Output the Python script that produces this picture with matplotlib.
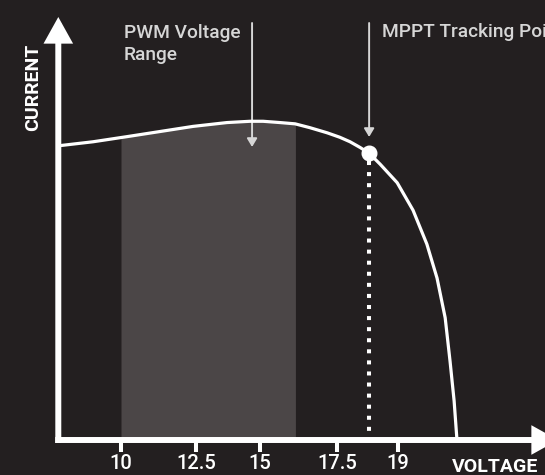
import matplotlib
matplotlib.use("Agg")
import matplotlib.pyplot as plt
import numpy as np

# I-V curve of the panel
voltage = [7.97, 9.07, 10.20, 11.30, 12.40, 13.71, 14.61, 15.10, 15.65, 16.14,
           16.62, 17.18, 17.57, 17.82, 18.07, 18.29, 18.56, 18.98, 19.37, 19.71,
           19.96, 20.16, 20.28, 20.38, 20.45]
current = [4.60, 4.66, 4.74, 4.82, 4.90, 4.96, 4.98, 4.98, 4.96, 4.94,
           4.88, 4.80, 4.73, 4.66, 4.57, 4.48, 4.31, 4.02, 3.59, 3.06,
           2.53, 1.91, 1.23, 0.61, 0.0]

tick_values = [10, 12.5, 15, 17.5, 19]
tick_labels = ["10", "12.5", "15", "17.5", "19"]

pwm_range = [10.0, 16.15]
pwm_arrow_v = 14.69
mppt_v = 18.29
mppt_i = 4.48

BG = "#231f20"
SHADE = "#4b4647"
FG = "#ffffff"
NOTE = "#d6d6d6"
FONT = ["Roboto", "DejaVu Sans"]

# the drawing is schematic: ticks are not evenly spaced, so use a piecewise scale
tick_px = np.array([121, 196, 260, 337, 398], float)
kv = np.array(tick_values, float)
slope_l = (tick_px[1] - tick_px[0]) / (kv[1] - kv[0])
slope_r = (tick_px[-1] - tick_px[-2]) / (kv[-1] - kv[-2])


def fwd(v):
    v = np.asarray(v, float)
    p = np.interp(v, kv, tick_px)
    p = np.where(v < kv[0], tick_px[0] + (v - kv[0]) * slope_l, p)
    p = np.where(v > kv[-1], tick_px[-1] + (v - kv[-1]) * slope_r, p)
    return p


def inv(p):
    p = np.asarray(p, float)
    v = np.interp(p, tick_px, kv)
    v = np.where(p < tick_px[0], kv[0] + (p - tick_px[0]) / slope_l, v)
    v = np.where(p > tick_px[-1], kv[-1] + (p - tick_px[-1]) / slope_r, v)
    return float(v) if v.ndim == 0 else v


def py(p):
    # vertical pixel -> current units
    return (440 - p) / 64


plt.rcParams['font.family'] = FONT

fig = plt.figure(figsize=(5.45, 4.75), dpi=100, facecolor=BG)
ax = fig.add_axes([0, 0, 1, 1], facecolor=BG)
ax.set_xscale("function", functions=(fwd, inv))
ax.set_xlim(inv(0), inv(545))
ax.set_ylim(py(475), py(0))

v0 = inv(58.3)

# shaded PWM range under the curve
v = np.array(voltage)
c = np.array(current)
m = (v > pwm_range[0]) & (v < pwm_range[1])
edge_i = np.interp(pwm_range, v, c)
fv = np.concatenate([[pwm_range[0]], v[m], [pwm_range[1]]])
fc = np.concatenate([[edge_i[0]], c[m], [edge_i[1]]])
ax.fill_between(fv, 0, fc, color=SHADE, lw=0, zorder=1)

# axes with arrowheads
for spine in ax.spines.values():
    spine.set_visible(False)
ax.spines['bottom'].set_position(('data', 0))
axis_arrow = dict(arrowstyle="-|>,head_length=0.45,head_width=0.25",
                  lw=4.3, color=FG, shrinkA=0, shrinkB=0, mutation_scale=28,
                  capstyle='butt', joinstyle='miter')
ax.annotate("", xy=(v0, py(17)), xytext=(v0, py(443)),
            arrowprops=axis_arrow, annotation_clip=False, zorder=5)
ax.annotate("", xy=(inv(558), 0), xytext=(inv(55.2), 0),
            arrowprops=axis_arrow, annotation_clip=False, zorder=5)

ax.set_xticks(tick_values, tick_labels)
ax.set_yticks([])
ax.tick_params(axis='x', direction='out', length=8.6, width=2.9, color=FG,
               labelcolor=FG, labelsize=14.5, pad=1.5)
for lab in ax.get_xticklabels():
    lab.set_fontweight('medium')

# curve
ax.plot(voltage, current, color=FG, lw=2.3, zorder=4)

# MPPT point and drop line
ax.plot([mppt_v, mppt_v], [mppt_i - 0.12, 0.05], color=FG, lw=2.9,
        linestyle=(0, (1, 1.75)), dash_capstyle='butt', zorder=3)
ax.plot(mppt_v, mppt_i, 'o', ms=10.5, color=FG, zorder=6)

# annotations
note_arrow = dict(arrowstyle="-|>,head_length=0.5,head_width=0.3",
                  lw=1.4, color=NOTE, shrinkA=0, shrinkB=0, mutation_scale=10)
ax.annotate("", xy=(pwm_arrow_v, py(147)), xytext=(pwm_arrow_v, py(23)),
            arrowprops=note_arrow)
ax.annotate("", xy=(mppt_v, py(137)), xytext=(mppt_v, py(23)),
            arrowprops=note_arrow)
ax.text(inv(124), py(60), "PWM Voltage\nRange", color=NOTE, fontweight='medium',
        fontsize=13.8, ha='left', va='baseline', linespacing=1.3)
ax.text(inv(382), py(37), "MPPT Tracking Point", color=NOTE, fontweight='medium',
        fontsize=13.8, ha='left', va='baseline')

ax.text(inv(452), py(472), "VOLTAGE", color=FG, fontsize=14,
        fontweight='bold', ha='left', va='baseline')
ax.text(inv(33.5), py(87.5), "CURRENT", color=FG, fontsize=14,
        fontweight='bold', rotation=90, ha='center', va='center')

fig.savefig("out.png", dpi=100, facecolor=BG)
